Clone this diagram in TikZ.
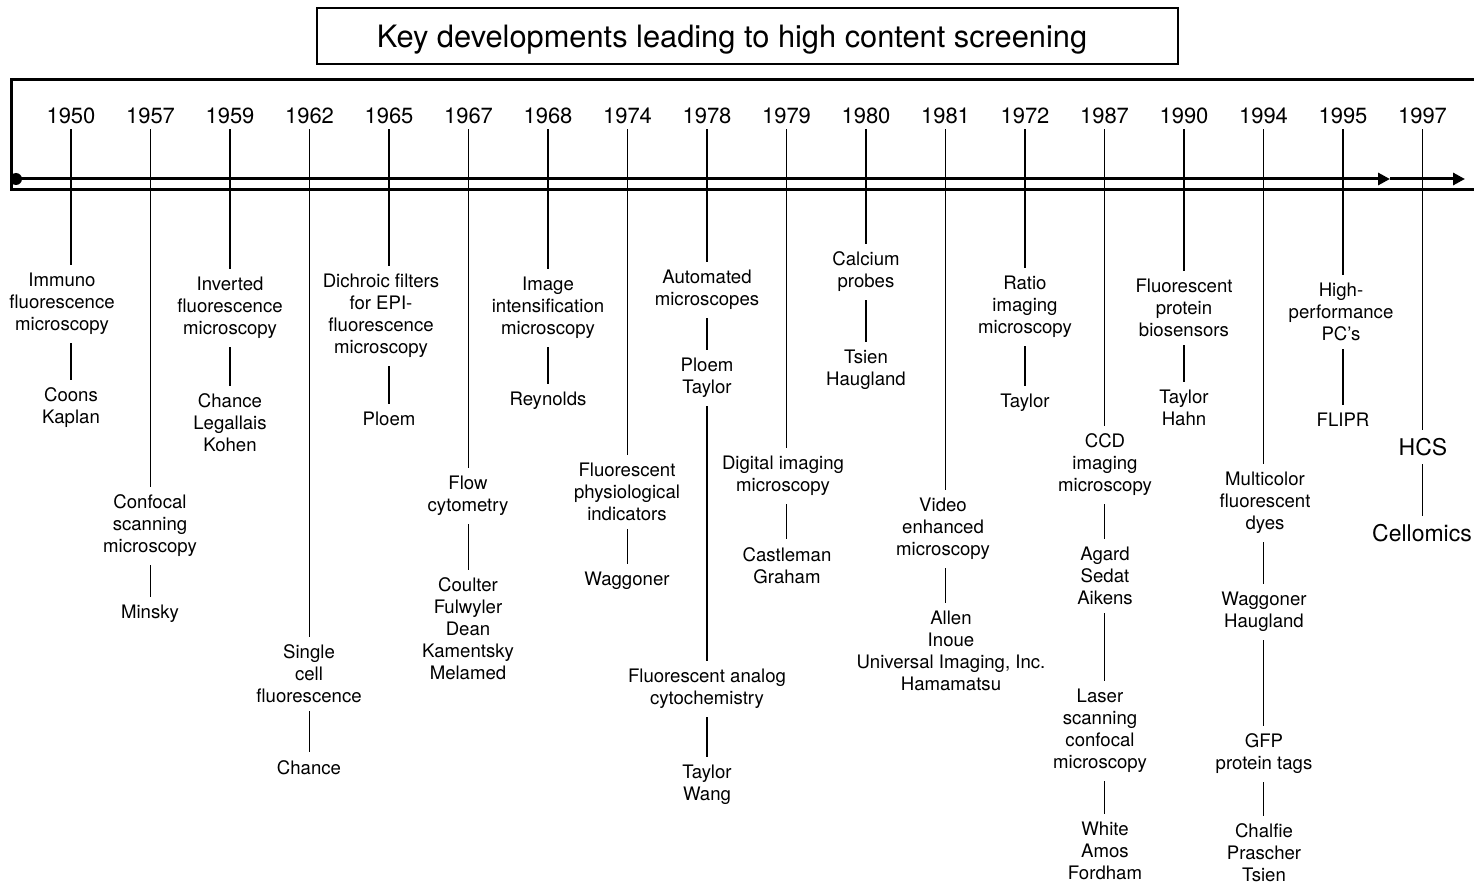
\documentclass[tikz,border=0pt]{standalone}
\usepackage{fontspec}
\setmainfont{TeX Gyre Heros}
\usetikzlibrary{arrows.meta}
\tikzset{
	year/.style={
		font=\fontsize{11}{13}\selectfont,
		inner sep=2.5pt
	},
	item/.style={
		align=center,
		font=\fontsize{9.3}{11}\selectfont,
		inner xsep=1pt,
		inner ysep=4pt
	},
	big item/.style={
		item,
		font=\fontsize{11.5}{14}\selectfont
	},
	link/.style={line width=0.9pt},
	frame/.style={line width=1.5pt},
}
\begin{document}
\begin{tikzpicture}[x=0.5pt, y=-0.5pt, >={Triangle[length=6pt,width=6pt]}]
\useasboundingbox (0,0) rectangle (1474,883);

% title and frame
\node [draw, line width=1pt, minimum width=430.5pt, minimum height=28pt, text depth=0pt,
	font=\fontsize{15.4}{18}\selectfont] (title) at (747.5,36)
	{Key developments leading to high content screening\hspace*{15.5pt}};
\draw [frame] (1474,80) -- (11,80) -- (11,190) -- (1474,190);

% years
\foreach \yr [count=\i] in {1950,1957,1959,1962,1965,1967,1968,1974,1978,1979,1980,1981,1972,1987,1990,1994,1995,1997}
	\node [year] (year-\i) at (71+79.5*\i-79.5,116) {\yr};

% timeline
\node [circle, fill, inner sep=0pt, minimum size=6pt] (origin) at (16,179) {};
\coordinate (tip-1) at (1390,179);
\coordinate (tip-2) at (1465,179);
\draw [frame, ->] (origin.center) -- (tip-1);
\draw [frame, ->] (tip-1) -- (tip-2);

% developments
\node [item] (immuno) at (62,304) {Immuno\\fluorescence\\microscopy};
\node [item] (coons) at (71,408) {Coons\\Kaplan};
\node [item] (confocal) at (150,526) {Confocal\\scanning\\microscopy};
\node [item] (minsky) at (150,614) {Minsky};
\node [item] (inverted) at (230,308) {Inverted\\fluorescence\\microscopy};
\node [item] (chance-a) at (230,423) {Chance\\Legallais\\Kohen};
\node [item] (single) at (309,674) {Single\\cell\\fluorescence};
\node [item] (chance-b) at (309,768) {Chance};
\node [item] (dichroic) at (381,316) {Dichroic filters\\for EPI-\\fluorescence\\microscopy};
\node [item] (ploem-a) at (389,419) {Ploem};
\node [item] (flow) at (468,496) {Flow\\cytometry};
\node [item] (coulter) at (468,629) {Coulter\\Fulwyler\\Dean\\Kamentsky\\Melamed};
\node [item] (intens) at (548,308) {Image\\intensification\\microscopy};
\node [item] (reynolds) at (548,401) {Reynolds};
\node [item] (indicators) at (627,492) {Fluorescent\\physiological\\indicators};
\node [item] (waggoner-a) at (627,581) {Waggoner};
\node [item] (automated) at (707,290) {Automated\\microscopes};
\node [item] (ploem-b) at (707,378) {Ploem\\Taylor};
\node [item] (analog) at (707,689) {Fluorescent analog\\cytochemistry};
\node [item] (taylor-a) at (707,785) {Taylor\\Wang};
\node [item] (digital) at (783,476) {Digital imaging\\microscopy};
\node [item] (castleman) at (787,566) {Castleman\\Graham};
\node [item] (calcium) at (866,272) {Calcium\\probes};
\node [item] (tsien-a) at (866,370) {Tsien\\Haugland};
\node [item] (video) at (943,529) {Video\\enhanced\\microscopy};
\node [item] (allen) at (951,651) {Allen\\Inoue\\Universal Imaging, Inc.\\Hamamatsu};
\node [item] (ratio) at (1025,307) {Ratio\\imaging\\microscopy};
\node [item] (taylor-b) at (1025,403) {Taylor};
\node [item] (ccd) at (1105,465) {CCD\\imaging\\microscopy};
\node [item] (agard) at (1105,576) {Agard\\Sedat\\Aikens};
\node [item] (laser) at (1100,731) {Laser\\scanning\\confocal\\microscopy};
\node [item] (white) at (1105,851) {White\\Amos\\Fordham};
\node [item] (biosensors) at (1184,308) {Fluorescent\\protein\\biosensors};
\node [item] (taylor-c) at (1184,408) {Taylor\\Hahn};
\node [item] (multicolor) at (1265,503) {Multicolor\\fluorescent\\dyes};
\node [item] (waggoner-b) at (1264,612) {Waggoner\\Haugland};
\node [item] (gfp) at (1264,754) {GFP\\protein tags};
\node [item] (chalfie) at (1264,853) {Chalfie\\Prascher\\Tsien};
\node [item] (highperf) at (1341,312) {High-\\performance\\PC's};
\node [item] (flipr) at (1343,420) {FLIPR};
\node [big item] (hcs) at (1423,447) {HCS};
\node [big item] (cellomics) at (1422,533) {Cellomics};

% connectors, kept on the year's vertical
\foreach \c/\a/\b in {1/year-1/immuno, 1/immuno/coons,
		2/year-2/confocal, 2/confocal/minsky,
		3/year-3/inverted, 3/inverted/chance-a,
		4/year-4/single, 4/single/chance-b,
		5/year-5/dichroic, 5/dichroic/ploem-a,
		6/year-6/flow, 6/flow/coulter,
		7/year-7/intens, 7/intens/reynolds,
		8/year-8/indicators, 8/indicators/waggoner-a,
		9/year-9/automated, 9/automated/ploem-b, 9/ploem-b/analog, 9/analog/taylor-a,
		10/year-10/digital, 10/digital/castleman,
		11/year-11/calcium, 11/calcium/tsien-a,
		12/year-12/video, 12/video/allen,
		13/year-13/ratio, 13/ratio/taylor-b,
		14/year-14/ccd, 14/ccd/agard, 14/agard/laser, 14/laser/white,
		15/year-15/biosensors, 15/biosensors/taylor-c,
		16/year-16/multicolor, 16/multicolor/waggoner-b, 16/waggoner-b/gfp, 16/gfp/chalfie,
		17/year-17/highperf, 17/highperf/flipr,
		18/year-18/hcs, 18/hcs/cellomics}
	\draw [link] (year-\c |- \a.south) -- (year-\c |- \b.north);

\end{tikzpicture}
\end{document}
